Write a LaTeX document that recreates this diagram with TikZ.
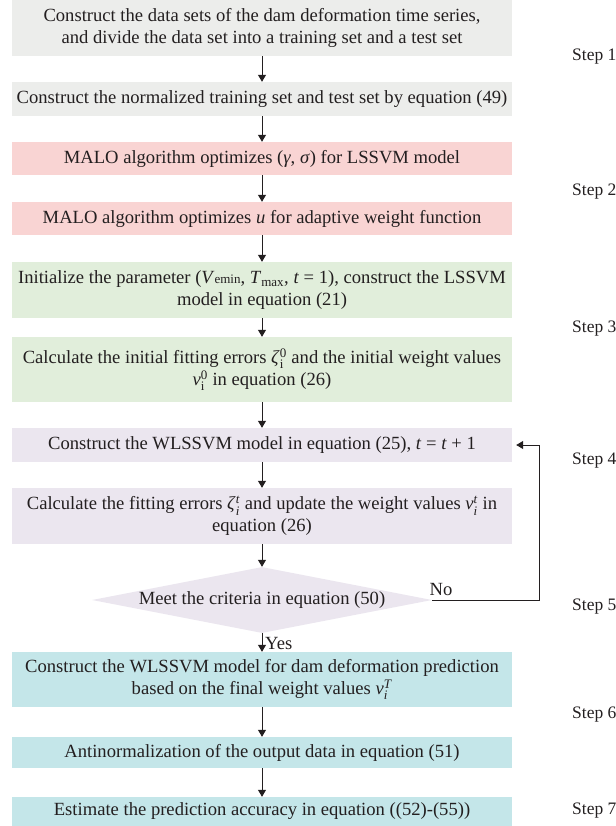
\documentclass[tikz,border=0pt]{standalone}
\usepackage{fontspec}
\usepackage{amsmath}
\setmainfont{Liberation Serif}
\usetikzlibrary{arrows.meta,shapes.geometric}
\definecolor{cgray}{HTML}{ECEDEB}
\definecolor{cpink}{HTML}{F9D4D3}
\definecolor{cgreen}{HTML}{E1EEDB}
\definecolor{clav}{HTML}{EBE6EF}
\definecolor{ccyan}{HTML}{C4E6E9}
\definecolor{textc}{HTML}{231F20}
\definecolor{linec}{HTML}{231F20}
\newcommand{\boxfont}{\fontsize{18.6}{22}\selectfont}
\newcommand{\stepfont}{\fontsize{17.5}{20}\selectfont}
\newcommand{\subsup}[3]{\textit{#1}\ensuremath{^{\text{#3}}_{\text{#2}}}}
\begin{document}
\begin{tikzpicture}[x=1pt,y=-1pt,
  box/.style={draw=none, fill=#1, minimum width=500pt, inner sep=0pt, align=center, font=\boxfont, text=textc},
  flow/.style={draw=linec, line width=1pt, -{Triangle[length=7pt,width=8pt]}},
  steplab/.style={anchor=west, font=\stepfont, text=textc, inner sep=0pt},
  lab/.style={font=\boxfont, text=textc, inner sep=0pt}]
\useasboundingbox (0,0) rectangle (615,826);

\node[box=cgray, minimum height=56pt] (b1) at (262,28) {Construct the data sets of the dam deformation time series,\\ and divide the data set into a training set and a test set};
\node[box=cgray, minimum height=34pt] (b2) at (262,99) {Construct the normalized training set and test set by equation (49)};
\node[box=cpink, minimum height=33pt] (b3) at (262,158.5) {MALO algorithm optimizes (\textit{γ}, \textit{σ}) for LSSVM model};
\node[box=cpink, minimum height=33pt] (b4) at (262,218.5) {MALO algorithm optimizes \textit{u} for adaptive weight function};
\node[box=cgreen, minimum height=56pt] (b5) at (262,290) {Initialize the parameter (\textit{V}{\fontsize{13}{13}\selectfont emin}, \textit{T}\ensuremath{_{\text{max}}}, \textit{t} = 1), construct the LSSVM\\ model in equation (21)};
\node[box=cgreen, minimum height=65pt] (b6) at (262,369.5) {Calculate the initial fitting errors \subsup{ζ}{i}{0} and the initial weight values\\ \subsup{v}{i}{0} in equation (26)};
\node[box=clav, minimum height=34pt] (b7) at (262,445) {Construct the WLSSVM model in equation (25), \textit{t} = \textit{t} + 1};
\node[box=clav, minimum height=56pt] (b8) at (262,516) {Calculate the fitting errors \subsup{ζ}{\textit{i}}{\textit{t}} and update the weight values \subsup{v}{\textit{i}}{\textit{t}} in\\ equation (26)};
\node[shape=diamond, fill=clav, minimum width=340pt, minimum height=66pt, inner sep=0pt, font=\boxfont, text=textc] (d) at (262,600) {\makebox[0pt]{Meet the criteria in equation (50)}};
\node[box=ccyan, minimum height=55pt] (b9) at (262,679.5) {Construct the WLSSVM model for dam deformation prediction\\ based on the final weight values \subsup{v}{\textit{i}}{\textit{T}}};
\node[box=ccyan, minimum height=31pt] (b10) at (262,752.5) {Antinormalization of the output data in equation (51)};
\node[box=ccyan, minimum height=29pt] (b11) at (262,811.5) {Estimate the prediction accuracy in equation ((52)-(55))};

\draw[flow] (b1) -- (b2);
\draw[flow] (b2) -- (b3);
\draw[flow] (b3) -- (b4);
\draw[flow] (b4) -- (b5);
\draw[flow] (b5) -- (b6);
\draw[flow] (b6) -- (b7);
\draw[flow] (b7) -- (b8);
\draw[flow] (b8) -- (d);
\draw[flow] (d) -- (b9);
\draw[flow] (b9) -- (b10);
\draw[flow] (b10) -- (b11);

\coordinate (fb) at (539,600);
\draw[flow, shorten >=4pt] (d.east) -- (fb) |- (b7.east);
\node[lab] (no) at (441,589) {No};
\node[lab, anchor=west] (yes) at (265,643) {Yes};

\node[steplab] (s1) at (572,57) {Step 1};
\node[steplab] (s2) at (572,192) {Step 2};
\node[steplab] (s3) at (572,329) {Step 3};
\node[steplab] (s4) at (572,461) {Step 4};
\node[steplab] (s5) at (572,607) {Step 5};
\node[steplab] (s6) at (572,715) {Step 6};
\node[steplab] (s7) at (572,811) {Step 7};
\end{tikzpicture}
\end{document}
